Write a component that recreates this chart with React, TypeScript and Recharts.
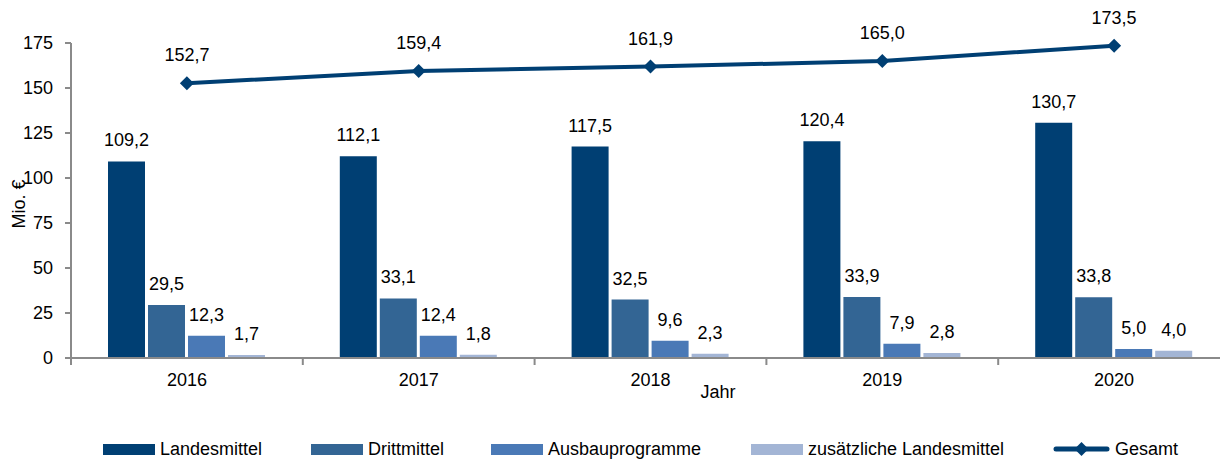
import React from "react";
import {
  ComposedChart,
  Bar,
  Line,
  XAxis,
  YAxis,
  LabelList,
  Label,
} from "recharts";

const years = ["2016", "2017", "2018", "2019", "2020"];
const landesmittel = [109.2, 112.1, 117.5, 120.4, 130.7];
const drittmittel = [29.5, 33.1, 32.5, 33.9, 33.8];
const ausbauprogramme = [12.3, 12.4, 9.6, 7.9, 5.0];
const zusaetzlich = [1.7, 1.8, 2.3, 2.8, 4.0];
const gesamt = [152.7, 159.4, 161.9, 165.0, 173.5];
const yTicks = [0, 25, 50, 75, 100, 125, 150, 175];

const C_LANDES = "#003f73";
const C_DRITT = "#336594";
const C_AUSBAU = "#4a79b6";
const C_ZUS = "#a3b5d5";
const C_AXIS = "#8a8a8a";
const FONT = '"Liberation Sans", Arial, sans-serif';
const FS = 18;

const CHART_W = 1230;
const CHART_H = 460;
const Y_W = 71;
const TOP = 43;
const AXIS_Y = 358;
const BAND = (CHART_W - Y_W) / years.length;

const data = years.map((year, i) => ({
  year,
  landesmittel: landesmittel[i],
  drittmittel: drittmittel[i],
  ausbauprogramme: ausbauprogramme[i],
  zusaetzlich: zusaetzlich[i],
  gesamt: gesamt[i],
}));

const fmt = (v: any) => Number(v).toFixed(1).replace(".", ",");

const legendItems = [
  { name: "Landesmittel", color: C_LANDES, left: 103, w: 52, type: "bar" },
  { name: "Drittmittel", color: C_DRITT, left: 311, w: 52, type: "bar" },
  { name: "Ausbauprogramme", color: C_AUSBAU, left: 491, w: 52, type: "bar" },
  { name: "zusätzliche Landesmittel", color: C_ZUS, left: 751, w: 52, type: "bar" },
  { name: "Gesamt", color: C_LANDES, left: 1053, w: 57, type: "line" },
];

const Diamond = (props: any) => {
  const { cx, cy } = props;
  if (cx == null || cy == null) return null;
  const r = 7;
  return (
    <path
      d={`M${cx},${cy - r} L${cx + r},${cy} L${cx},${cy + r} L${cx - r},${cy} Z`}
      fill={C_LANDES}
    />
  );
};

const XTick = (props: any) => {
  const { x, payload } = props;
  const left = x - BAND / 2;
  return (
    <g>
      <line x1={left} x2={left} y1={AXIS_Y} y2={AXIS_Y + 7} stroke={C_AXIS} strokeWidth={2} />
      <text x={x} y={AXIS_Y + 28} textAnchor="middle" fill="#000" fontSize={FS} fontFamily={FONT}>
        {payload.value}
      </text>
    </g>
  );
};

export default function App() {
  const labelStyle = { fill: "#000", fontSize: FS, fontFamily: FONT };
  return (
    <div
      style={{
        position: "absolute",
        left: 0,
        top: 0,
        width: 1220,
        height: 460,
        overflow: "hidden",
        background: "#fff",
        fontFamily: FONT,
      }}
    >
      <ComposedChart
        width={CHART_W}
        height={CHART_H}
        data={data}
        margin={{ top: TOP, right: 0, left: 0, bottom: CHART_H - AXIS_Y - 30 }}
        barCategoryGap={37}
        barGap={3}
      >
        <XAxis
          dataKey="year"
          height={30}
          axisLine={{ stroke: C_AXIS, strokeWidth: 2 }}
          tickLine={false}
          tick={<XTick />}
          interval={0}
        >
          <Label
            content={() => (
              <text x={718} y={398} textAnchor="middle" fill="#000" fontSize={FS} fontFamily={FONT}>
                Jahr
              </text>
            )}
          />
        </XAxis>
        <YAxis
          width={Y_W}
          domain={[0, 175]}
          ticks={yTicks}
          interval={0}
          axisLine={{ stroke: C_AXIS, strokeWidth: 2 }}
          tickLine={{ stroke: C_AXIS, strokeWidth: 2 }}
          tickSize={6}
          tickMargin={12}
          tick={labelStyle}
        >
          <Label
            content={() => (
              <text
                x={25}
                y={204}
                transform="rotate(-90 25 204)"
                textAnchor="middle"
                fill="#000"
                fontSize={FS}
                fontFamily={FONT}
              >
                Mio. €
              </text>
            )}
          />
        </YAxis>
        <Bar dataKey="landesmittel" fill={C_LANDES} isAnimationActive={false}>
          <LabelList dataKey="landesmittel" position="top" offset={15} formatter={fmt} style={labelStyle} />
        </Bar>
        <Bar dataKey="drittmittel" fill={C_DRITT} isAnimationActive={false}>
          <LabelList dataKey="drittmittel" position="top" offset={15} formatter={fmt} style={labelStyle} />
        </Bar>
        <Bar dataKey="ausbauprogramme" fill={C_AUSBAU} isAnimationActive={false}>
          <LabelList dataKey="ausbauprogramme" position="top" offset={15} formatter={fmt} style={labelStyle} />
        </Bar>
        <Bar dataKey="zusaetzlich" fill={C_ZUS} isAnimationActive={false}>
          <LabelList dataKey="zusaetzlich" position="top" offset={15} formatter={fmt} style={labelStyle} />
        </Bar>
        <Line
          dataKey="gesamt"
          stroke={C_LANDES}
          strokeWidth={4}
          dot={<Diamond />}
          activeDot={false}
          isAnimationActive={false}
        >
          <LabelList dataKey="gesamt" position="top" offset={22} formatter={fmt} style={labelStyle} />
        </Line>
      </ComposedChart>
      {legendItems.map((it) => (
        <div
          key={it.name}
          style={{
            position: "absolute",
            left: it.left,
            top: 439,
            height: 20,
            display: "flex",
            alignItems: "center",
            fontSize: FS,
            lineHeight: "20px",
            color: "#000",
            whiteSpace: "nowrap",
          }}
        >
          {it.type === "bar" ? (
            <span style={{ display: "inline-block", width: it.w, height: 11, background: it.color }} />
          ) : (
            <svg width={it.w} height={14} style={{ display: "block" }}>
              <line x1={3} x2={it.w - 3} y1={7} y2={7} stroke={it.color} strokeWidth={5} strokeLinecap="round" />
              <path d={`M${it.w / 2},0 L${it.w / 2 + 7},7 L${it.w / 2},14 L${it.w / 2 - 7},7 Z`} fill={it.color} />
            </svg>
          )}
          <span style={{ marginLeft: 5 }}>{it.name}</span>
        </div>
      ))}
    </div>
  );
}
